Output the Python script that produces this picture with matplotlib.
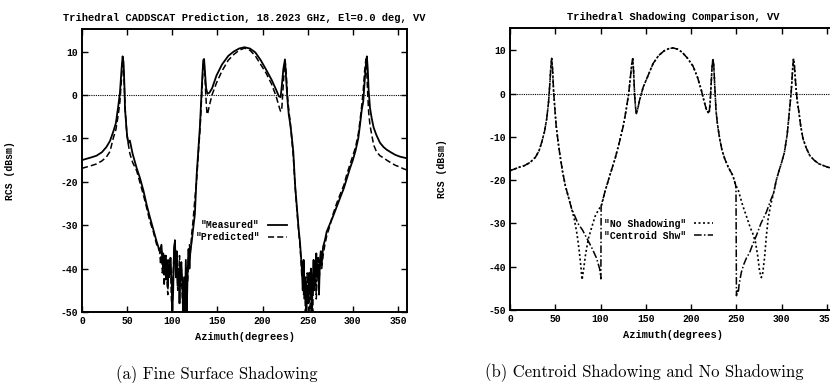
#!/usr/bin/env python3
"""Trihedral RCS vs azimuth: fine-surface shadowing (a) and centroid vs no shadowing (b)."""

import matplotlib
matplotlib.use("Agg")
import matplotlib.pyplot as plt

plt.rcParams["axes.unicode_minus"] = False
MONO = ["Liberation Mono", "DejaVu Sans Mono"]
SERIF = ["cmr10", "DejaVu Serif"]

# (azimuth deg, RCS dBsm) pairs
measured = [
    (0, -15.0), (5, -14.7), (10, -14.4), (16, -14.0), (22, -13.2), (27, -12.0), (31, -10.6),
    (34.7, -8.4), (37.5, -6.5), (40.2, -2.5), (42, 0.5), (43, 3.5), (44, 6.5), (45, 8.9),
    (46, 7.5), (47, 2.0), (47.6, -3.0), (49, -7.0), (50, -9.5), (51.3, -11.0), (53, -10.5),
    (56, -13.5), (60.6, -16.9), (64, -19.0), (68, -22.0), (71.6, -25.3), (75, -28.0),
    (79, -31.0), (82.7, -33.8), (86, -36.0), (88, -34.5), (89, -38.0), (90, -36.5),
    (91, -40.0), (92, -37.0), (93, -42.5), (94, -38.0), (95, -44.0), (96, -39.0), (97, -41.0),
    (98, -37.5), (99.3, -43.0), (100, -50.0), (101, -45.0), (102, -35.0), (103, -33.8),
    (104, -42.0), (105, -36.0), (106, -44.0), (107, -40.0), (108, -48.0), (109, -41.0),
    (110, -38.5), (111, -43.0), (112, -50.0), (113, -42.0), (114, -50.0), (115, -38.0),
    (116, -50.0), (117, -41.0), (118, -35.5), (119, -40.0), (120, -36.0), (121.5, -33.8),
    (123, -31.0), (125, -27.5), (127, -18.4), (129, -12.0), (130.7, -6.9), (132, -1.0),
    (133.2, 4.0), (134.3, 8.0), (135.2, 8.3), (136.3, 5.0), (137.5, 1.5), (139, 0.3),
    (141, 0.5), (144, 1.5), (149, 4.5), (155, 7.0), (162, 9.0), (168, 10.0), (174, 10.7),
    (180, 11.0), (186, 10.7), (192, 9.8), (198, 8.0), (204, 5.8), (210, 3.5), (215, 1.2),
    (218, -0.3), (220, -0.5), (221.5, 2.5), (223, 6.0), (224.8, 8.2), (226, 4.0),
    (227.5, -1.0), (229, -4.5), (230.5, -6.5), (232, -9.0), (234, -13.0), (236, -20.7),
    (238, -26.0), (240, -31.0), (241.4, -33.8), (242.5, -37.0), (243.5, -40.0),
    (244.5, -45.0), (245.5, -38.0), (246.5, -47.0), (247.5, -42.0), (248.5, -50.0),
    (249.5, -44.0), (250.5, -48.0), (251.5, -41.0), (252.5, -46.0), (253.5, -40.0),
    (254.5, -50.0), (255.5, -43.0), (256.5, -38.0), (257.5, -45.0), (258.5, -40.0),
    (259.5, -36.5), (260.5, -42.0), (261.5, -39.0), (262.5, -46.0), (263.5, -38.0),
    (264.5, -36.0), (265.5, -39.0), (267, -35.0), (269, -33.5), (271, -31.5), (274, -30.0),
    (278, -28.0), (282, -25.8), (285.7, -23.8), (290, -21.5), (293, -19.5), (296.8, -16.9),
    (300, -15.0), (303, -12.8), (306, -10.0), (307.9, -6.9), (309.8, -3.5), (311.5, -1.5),
    (313, 3.0), (314.5, 7.0), (315.5, 8.9), (316.5, 6.0), (317.5, 1.0), (319, -3.0),
    (320.8, -5.3), (323, -7.5), (326, -9.2), (330, -11.0), (334, -12.0), (337.4, -12.6),
    (342, -13.2), (347, -13.8), (352, -14.2), (356, -14.4), (360, -14.6),
]

predicted = [
    (0, -16.9), (5, -16.6), (10, -16.3), (16, -15.9), (22, -15.2), (27, -14.3), (31, -13.0),
    (34.7, -9.9), (37.5, -8.0), (40.2, -4.5), (42, -1.5), (43, 1.5), (44, 4.5), (45, 8.2),
    (46, 6.5), (47, 1.0), (48, -4.0), (49.5, -8.5), (51, -11.0), (53, -13.5), (56, -15.5),
    (60.6, -17.5), (64, -20.0), (68, -23.0), (71.6, -26.0), (75, -29.0), (79, -31.5),
    (82.7, -34.5), (86, -36.0), (87, -39.0), (88, -36.0), (89, -41.0), (90, -38.0),
    (91, -44.0), (92, -40.0), (93, -37.0), (94, -42.0), (95, -46.0), (96, -38.0), (97, -42.0),
    (98, -39.0), (99, -47.0), (100, -50.0), (101, -41.0), (102, -36.0), (103, -33.0),
    (104, -40.0), (105, -38.0), (106, -45.0), (107, -42.0), (108, -37.0), (109, -44.0),
    (110, -40.0), (111, -46.0), (112, -50.0), (113, -44.0), (114, -50.0), (115, -45.0),
    (116, -40.0), (117, -43.0), (118, -37.0), (119, -34.5), (120, -36.5), (121.5, -32.0),
    (123, -29.0), (125, -24.0), (127, -19.5), (129, -13.0), (130.7, -8.0), (132, -2.5),
    (133.2, 3.0), (134.3, 7.0), (135.2, 7.8), (136.3, 3.5), (137.5, -1.5), (138.5, -4.5),
    (139.5, -4.0), (141, -2.5), (144, 0.0), (149, 2.8), (155, 5.5), (162, 8.0), (168, 9.3),
    (174, 10.3), (180, 10.8), (186, 10.3), (192, 9.0), (198, 7.0), (204, 5.0), (210, 2.5),
    (215, -0.3), (218, -2.5), (220, -3.8), (221.2, -3.5), (222.5, 1.0), (224, 6.0),
    (225, 7.8), (226.2, 5.0), (227.5, 0.0), (229, -3.5), (230.5, -6.0), (232, -9.5),
    (234, -14.0), (236, -21.0), (238, -26.5), (240, -31.5), (241.4, -34.5), (242.5, -38.0),
    (243.5, -42.0), (244.5, -38.0), (245.5, -46.0), (246.5, -43.0), (247.5, -50.0),
    (248.5, -45.0), (249.5, -41.0), (250.5, -47.0), (251.5, -44.0), (252.5, -50.0),
    (253.5, -42.0), (254.5, -45.0), (255.5, -50.0), (256.5, -41.0), (257.5, -44.0),
    (258.5, -39.0), (259.5, -47.0), (260.5, -41.0), (261.5, -37.0), (262.5, -43.0),
    (263.5, -40.0), (264.5, -38.0), (265.5, -40.0), (267, -37.0), (269, -34.5),
    (271, -32.5), (274, -30.5), (278, -27.5), (282, -25.0), (285.7, -23.0), (290, -20.8),
    (293, -18.5), (296.8, -16.0), (300, -14.0), (303, -12.0), (306, -9.0), (307.9, -6.0),
    (309.8, -2.5), (311.5, 1.0), (313, 5.5), (314.5, 8.3), (315.5, 5.0), (316.5, 0.0),
    (317.5, -4.0), (319, -7.0), (320.8, -9.0), (323, -11.5), (326, -13.0), (330, -14.0),
    (334, -14.5), (337.4, -15.0), (342, -15.6), (347, -16.2), (352, -16.6), (356, -17.0),
    (360, -17.3),
]

no_shadowing = [
    (0, -17.8), (5, -17.4), (10, -17.0), (16, -16.6), (22, -15.9), (28, -14.7), (32, -13.2),
    (35, -11.2), (38, -8.8), (40.5, -5.8), (42.5, -2.0), (44, 2.5), (45, 6.0), (46, 8.2),
    (47, 5.5), (48, 1.0), (49.5, -3.5), (51, -7.5), (53, -11.0), (55, -14.0), (58, -18.0),
    (61, -21.2), (64, -23.5), (68, -26.6), (71, -29.0), (74, -32.5), (76.5, -36.5),
    (78.5, -40.5), (79.5, -43.0), (81, -41.0), (83.5, -37.0), (86.5, -33.5), (90, -31.0),
    (94, -28.3), (98, -26.7), (101, -25.9), (105, -22.5), (110, -19.0), (116, -15.0),
    (121, -11.0), (125, -7.5), (128, -4.0), (131, 0.0), (133, 4.0), (134.5, 7.0),
    (135.5, 8.1), (136.5, 5.0), (137.5, 0.0), (138.5, -3.0), (139.5, -4.6), (141, -3.5),
    (143, -1.5), (147, 1.5), (152, 4.0), (158, 7.0), (164, 8.8), (170, 9.9), (175, 10.4),
    (180, 10.6), (185, 10.3), (190, 9.6), (196, 8.2), (202, 6.4), (207, 3.8), (211, 1.0),
    (214, -1.5), (217, -3.8), (219.8, -4.6), (221, -2.0), (222, 2.0), (223, 6.0),
    (224, 8.1), (225, 6.5), (226, 2.0), (227.5, -4.0), (229, -7.0), (231.5, -10.4),
    (234, -13.0), (237, -15.0), (241, -17.0), (246, -18.9), (249, -21.0), (252, -22.3),
    (257, -25.9), (261, -28.3), (265, -30.8), (268, -32.3), (271, -34.3), (273.5, -37.5),
    (275.5, -41.0), (277.5, -42.5), (279, -41.5), (281, -38.0), (283, -33.0), (285, -28.9),
    (288, -25.5), (291, -23.0), (294, -20.0), (297, -17.8), (300, -15.8), (303, -13.5),
    (306, -9.5), (308.5, -4.0), (310.5, 0.5), (312, 5.5), (313, 8.1), (314, 6.5),
    (315.5, 2.0), (317, -1.5), (318.5, -3.5), (321, -7.5), (323.5, -10.4), (327, -12.5),
    (331, -14.3), (336, -15.4), (341, -16.2), (346, -16.6), (351, -17.0), (356, -17.2),
    (360, -17.3),
]

centroid_shw = [
    (0, -17.8), (5, -17.4), (10, -17.0), (16, -16.6), (22, -15.9), (28, -14.7), (32, -13.2),
    (35, -11.2), (38, -8.8), (40.5, -5.8), (42.5, -2.0), (44, 2.5), (45, 6.0), (46, 8.2),
    (47, 5.5), (48, 1.0), (49.5, -3.5), (51, -7.5), (53, -11.0), (55, -14.0), (58, -18.0),
    (61, -21.2), (64, -23.5), (68, -26.6), (70, -27.5), (75, -30.0), (80, -31.5),
    (85, -33.5), (90, -35.5), (95.5, -38.0), (99, -40.5), (100.3, -42.8), (100.6, -25.9),
    (105, -22.5), (110, -19.0), (116, -15.0), (121, -11.0), (125, -7.5), (128, -4.0),
    (131, 0.0), (133, 4.0), (134.5, 7.0), (135.5, 8.1), (136.5, 5.0), (137.5, 0.0),
    (138.5, -3.0), (139.5, -4.6), (141, -3.5), (143, -1.5), (147, 1.5), (152, 4.0),
    (158, 7.0), (164, 8.8), (170, 9.9), (175, 10.4), (180, 10.6), (185, 10.3), (190, 9.6),
    (196, 8.2), (202, 6.4), (207, 3.8), (211, 1.0), (214, -1.5), (217, -3.8), (219.8, -4.6),
    (221, -2.0), (222, 2.0), (223, 6.0), (224, 8.1), (225, 6.5), (226, 2.0), (227.5, -4.0),
    (229, -7.0), (231.5, -10.4), (234, -13.0), (237, -15.0), (241, -17.0), (246, -18.9),
    (249, -21.0), (249.5, -22.0), (250, -46.7), (251, -45.5), (252, -46.0), (253, -44.0),
    (255.4, -41.3), (258, -39.5), (261, -38.0), (264.6, -36.7), (268, -34.8), (272, -32.8),
    (277, -30.0), (283, -27.4), (288, -24.5), (291, -23.0), (294, -20.0), (297, -17.8),
    (300, -15.8), (303, -13.5), (306, -9.5), (308.5, -4.0), (310.5, 0.5), (312, 5.5),
    (313, 8.1), (314, 6.5), (315.5, 2.0), (317, -1.5), (318.5, -3.5), (321, -7.5),
    (323.5, -10.4), (327, -12.5), (331, -14.3), (336, -15.4), (341, -16.2), (346, -16.6),
    (351, -17.0), (356, -17.2), (360, -17.3),
]

x_ticks = [0, 50, 100, 150, 200, 250, 300, 350]
y_ticks = [-50, -40, -30, -20, -10, 0, 10]


def split(points):
    az, rcs = zip(*points)
    return list(az), list(rcs)


def style_axes(ax, title):
    ax.set_xlim(0, 360)
    ax.set_ylim(-50, 15.2)
    ax.set_xticks(x_ticks)
    ax.set_yticks(y_ticks)
    ax.tick_params(direction="in", top=True, right=True, length=4, width=1.0,
                   labelsize=7, pad=3)
    for lab in ax.get_xticklabels() + ax.get_yticklabels():
        lab.set_family(MONO)
        lab.set_weight("bold")
    for sp in ax.spines.values():
        sp.set_linewidth(1.4)
    ax.axhline(0, color="black", lw=0.8, ls=(0, (1, 1)))
    ax.set_title(title, family=MONO, fontsize=7.5, weight="bold", pad=6)
    ax.set_xlabel("Azimuth(degrees)", family=MONO, fontsize=7.5, weight="bold")
    ax.set_ylabel("RCS (dBsm)", family=MONO, fontsize=7, weight="bold")
    ax.xaxis.set_label_coords(0.5, -0.072)


fig = plt.figure(figsize=(8.3, 3.83), dpi=100)

ax1 = fig.add_axes([0.0988, 0.1854, 0.3916, 0.7389])
ax1.plot(*split(measured), color="black", lw=1.3, label='"Measured"')
ax1.plot(*split(predicted), color="black", lw=1.1, ls=(0, (4, 2)), label='"Predicted"')
style_axes(ax1, "Trihedral CADDSCAT Prediction, 18.2023 GHz, El=0.0 deg, VV")
ax1.yaxis.set_label_coords(-0.206, 0.5)
ax1.legend(loc="center", bbox_to_anchor=(0.49, 0.286), frameon=False, markerfirst=False,
           handlelength=2.0, handletextpad=0.8, labelspacing=0.2,
           prop={"family": MONO, "size": 7, "weight": "bold"})

ax2 = fig.add_axes([0.6145, 0.1906, 0.3928, 0.7363])
ax2.plot(*split(no_shadowing), color="black", lw=1.2, ls=(0, (1.2, 1.5)),
         label='"No Shadowing"')
ax2.plot(*split(centroid_shw), color="black", lw=1.1, ls=(0, (5, 1.5, 1, 1.5)),
         label='"Centroid Shw"')
style_axes(ax2, "Trihedral Shadowing Comparison, VV")
ax2.yaxis.set_label_coords(-0.193, 0.5)
ax2.legend(loc="center", bbox_to_anchor=(0.455, 0.285), frameon=False, markerfirst=False,
           handlelength=2.0, handletextpad=0.8, labelspacing=0.2,
           prop={"family": MONO, "size": 7, "weight": "bold"})

fig.text(217 / 830, 1 - 375 / 383, "(a) Fine Surface Shadowing", family=SERIF,
         fontsize=12, ha="center", va="center")
fig.text(644 / 830, 1 - 373 / 383, "(b) Centroid Shadowing and No Shadowing", family=SERIF,
         fontsize=12, ha="center", va="center")

fig.savefig("out.png", dpi=100)
